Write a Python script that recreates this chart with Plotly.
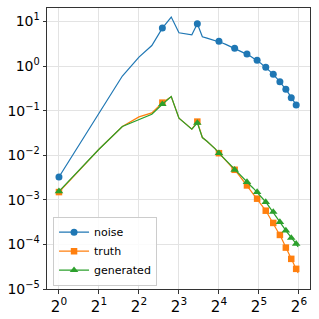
import plotly.graph_objects as go

k = list(range(1, 64))

noise = [
    3.24e-3, 0.0865, 0.597, 1.58, 2.88, 7.08, 12.5, 5.56, 5.28, 5.01,
    8.83, 4.52, 4.23, 3.95, 3.76, 3.57, 3.29, 3.06, 2.85, 2.66,
    2.49, 2.34, 2.20, 2.07, 1.95, 1.85, 1.73, 1.62, 1.52, 1.43,
    1.34, 1.24, 1.16, 1.07, 1.00, 0.935, 0.865, 0.805, 0.75, 0.697,
    0.652, 0.604, 0.559, 0.517, 0.479, 0.445, 0.41, 0.38, 0.35, 0.324,
    0.301, 0.276, 0.251, 0.230, 0.212, 0.195, 0.181, 0.167, 0.155, 0.144,
    0.134, 0.126, 0.118]

truth = [
    1.49e-3, 0.0136, 0.0439, 0.0723, 0.089, 0.151, 0.206, 0.0676, 0.0504, 0.0384,
    0.0567, 0.0249, 0.0205, 0.0171, 0.0139, 0.0111, 0.0092, 0.00757, 0.00638, 0.00544,
    0.00471, 0.00395, 0.00334, 0.00284, 0.00244, 0.00210, 0.00181, 0.00157, 0.00137, 0.00120,
    0.00106, 9.25e-4, 8.18e-4, 7.23e-4, 6.43e-4, 5.70e-4, 5.01e-4, 4.39e-4, 3.88e-4, 3.40e-4,
    3.03e-4, 2.66e-4, 2.35e-4, 2.08e-4, 1.84e-4, 1.63e-4, 1.43e-4, 1.25e-4, 1.09e-4, 9.6e-5,
    8.48e-5, 7.53e-5, 6.65e-5, 5.91e-5, 5.31e-5, 4.74e-5, 4.26e-5, 3.84e-5, 3.46e-5, 3.12e-5,
    2.83e-5, 2.54e-5, 2.28e-5]

generated = [
    1.55e-3, 0.0136, 0.0439, 0.0643, 0.083, 0.139, 0.206, 0.0676, 0.0504, 0.0384,
    0.0531, 0.0249, 0.0205, 0.0171, 0.0139, 0.0111, 0.0092, 0.00757, 0.00638, 0.00544,
    4.71e-3, 4.10e-3, 3.59e-3, 3.17e-3, 2.80e-3, 2.50e-3, 2.23e-3, 2.01e-3, 1.82e-3, 1.64e-3,
    1.49e-3, 1.34e-3, 1.20e-3, 1.09e-3, 9.85e-4, 8.93e-4, 8.02e-4, 7.19e-4, 6.52e-4, 5.89e-4,
    5.33e-4, 4.79e-4, 4.32e-4, 3.90e-4, 3.52e-4, 3.18e-4, 2.90e-4, 2.65e-4, 2.41e-4, 2.22e-4,
    2.04e-4, 1.88e-4, 1.75e-4, 1.62e-4, 1.50e-4, 1.40e-4, 1.31e-4, 1.23e-4, 1.16e-4, 1.09e-4,
    1.03e-4, 9.5e-5, 8.8e-5]

x_tickvals = [1, 2, 4, 8, 16, 32, 64]
x_ticktext = ["2<sup>%d</sup>" % i for i in range(7)]
y_tickvals = [1e-5, 1e-4, 1e-3, 1e-2, 1e-1, 1, 10]
y_ticktext = ["10<sup>%s</sup>" % s for s in ["\u22125", "\u22124", "\u22123", "\u22122", "\u22121", "0", "1"]]

series = [
    ("noise", noise, "#1f77b4", "circle", 7),
    ("truth", truth, "#ff7f0e", "square", 6.5),
    ("generated", generated, "#2ca02c", "triangle-up", 7.5),
]

fig = go.Figure()
for name, vals, color, sym, ms in series:
    fig.add_trace(go.Scatter(x=k, y=vals, mode="lines", line=dict(color=color, width=1.2),
                             showlegend=False, hoverinfo="skip"))
    fig.add_trace(go.Scatter(x=k[::5], y=vals[::5], mode="markers",
                             marker=dict(color=color, symbol=sym, size=ms),
                             showlegend=False))
for name, vals, color, sym, ms in series:
    fig.add_trace(go.Scatter(x=[None], y=[None], mode="lines+markers", name=name,
                             line=dict(color=color, width=1.2),
                             marker=dict(color=color, symbol=sym, size=ms)))

axis_common = dict(
    showline=True, mirror=True, linecolor="#333333", linewidth=1,
    ticks="outside", ticklen=3.5, tickcolor="#333333", tickwidth=1,
    showgrid=True, gridcolor="#e3e3e3", gridwidth=1, zeroline=False,
    automargin=False,
)

fig.update_xaxes(type="log", range=[-0.0900, 1.8893], tickvals=x_tickvals,
                 ticktext=x_ticktext,
                 tickfont=dict(family="DejaVu Sans", size=15, color="black"),
                 **axis_common)
fig.update_yaxes(type="log", range=[-5, 1.301], tickvals=y_tickvals,
                 ticktext=y_ticktext,
                 tickfont=dict(family="DejaVu Sans", size=14, color="black"),
                 **axis_common)

fig.update_layout(
    width=319, height=319,
    margin=dict(l=47, r=9, t=8, b=30),
    paper_bgcolor="white", plot_bgcolor="white",
    font=dict(family="DejaVu Sans", size=12, color="black"),
    legend=dict(x=0.023, y=0.012, xanchor="left", yanchor="bottom",
                bgcolor="rgba(255,255,255,0.85)", bordercolor="#cccccc", borderwidth=1,
                font=dict(size=11), tracegroupgap=0, itemwidth=30),
    showlegend=True,
)

fig.write_html("out.html", config={"displayModeBar": False},
               post_script="document.body.style.margin='0';document.body.style.overflow='hidden';")
